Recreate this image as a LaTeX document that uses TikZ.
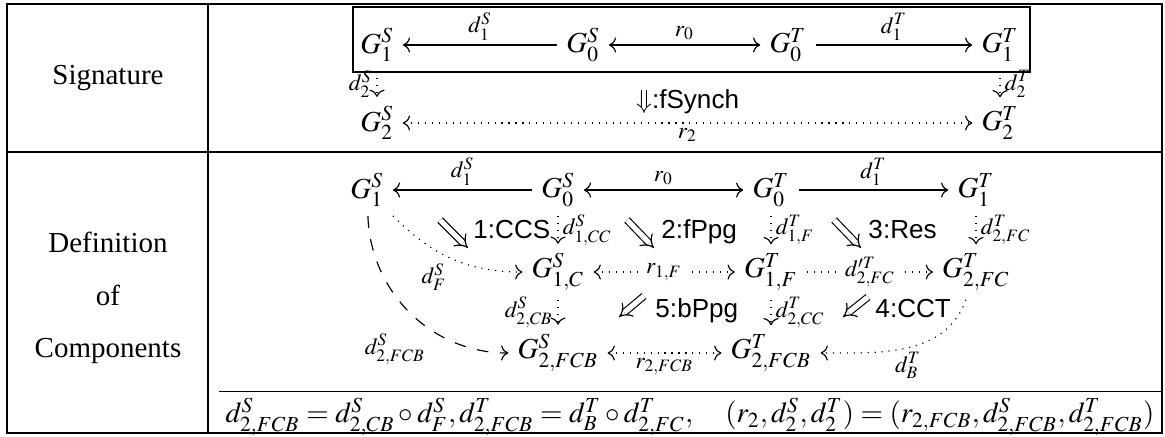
\documentclass[tikz,border=0pt]{standalone}
\usepackage{mathptmx}
\usepackage[no-math]{fontspec}
\setmainfont{Liberation Serif}
\setsansfont{Liberation Sans}
\usetikzlibrary{arrows.meta, positioning, calc}

\begin{document}
\begin{tikzpicture}[x=0.345pt, y=0.345pt,
    obj/.style={inner sep=3pt},
    lbl/.style={font=\footnotesize, inner sep=1.5pt},
    cell/.style={font=\small\sffamily, inner sep=1pt},
    dbl/.style={double, double distance=1.8pt, -{Implies[scale=1.25]}}
]
    \useasboundingbox (0,0) rectangle (1165,436);

    % table frame
    \draw (7,3) rectangle (1162,432);
    \draw (208,3) -- (208,432);
    \draw (7,284) -- (1162,284);
    \node (sig) at (108,358) {Signature};
    \node[align=center] (def) at (108,138) {Definition\\[6pt]of\\[6pt]Components};

    % signature
    \node[obj] (gS1) at (377,391) {$G^S_1$};
    \node[obj] (gS0) at (583,391) {$G^S_0$};
    \node[obj] (gT0) at (788,391) {$G^T_0$};
    \node[obj] (gT1) at (1000,391) {$G^T_1$};
    \node[obj] (gS2) at (377,313) {$G^S_2$};
    \node[obj] (gT2) at (1000,313) {$G^T_2$};
    \draw (353,364) rectangle (1030,429);
    \draw[->] (gS0) -- node[lbl, above] {$d^S_1$} (gS1);
    \draw[<->] (gS0) -- node[lbl, above] {$r_0$} (gT0);
    \draw[->] (gT0) -- node[lbl, above] {$d^T_1$} (gT1);
    \draw[->, dotted] (gS1) -- node[lbl, left] {$d^S_2$} (gS2);
    \draw[->, dotted] (gT1) -- node[lbl, right] {$d^T_2$} (gT2);
    \draw[<->, dotted] (gS2) -- node[lbl, below] {$r_2$}
        node[cell, above=2pt] (fsynch) {$\Downarrow$:fSynch} (gT2);

    % components
    \node[obj] (cS1) at (367,246) {$G^S_1$};
    \node[obj] (cS0) at (558,246) {$G^S_0$};
    \node[obj] (cT0) at (771,246) {$G^T_0$};
    \node[obj] (cT1) at (976,246) {$G^T_1$};
    \node[obj] (cS1C) at (558,164) {$G^S_{1,C}$};
    \node[obj] (cT1F) at (771,164) {$G^T_{1,F}$};
    \node[obj] (cT2FC) at (976,164) {$G^T_{2,FC}$};
    \node[obj] (cS2FCB) at (558,83) {$G^S_{2,FCB}$};
    \node[obj] (cT2FCB) at (771,83) {$G^T_{2,FCB}$};

    \draw[->] (cS0) -- node[lbl, above] {$d^S_1$} (cS1);
    \draw[<->] (cS0) -- node[lbl, above] {$r_0$} (cT0);
    \draw[->] (cT0) -- node[lbl, above] {$d^T_1$} (cT1);
    \draw[->, dotted] (cS0) -- node[lbl, right] {$d^S_{1,CC}$} (cS1C);
    \draw[->, dotted] (cT0) -- node[lbl, right] {$d^T_{1,F}$} (cT1F);
    \draw[->, dotted] (cT1) -- node[lbl, right] {$d^T_{2,FC}$} (cT2FC);
    \draw[<->, dotted] (cS1C) -- node[lbl, fill=white] {$r_{1,F}$} (cT1F);
    \draw[->, dotted] (cT1F) -- node[lbl, fill=white] {$d'^T_{2,FC}$} (cT2FC);
    \draw[->, dotted] (cS1C) -- node[lbl, left] {$d^S_{2,CB}$} (cS2FCB);
    \draw[->, dotted] (cT1F) -- node[lbl, right] {$d^T_{2,CC}$} (cT2FCB);
    \draw[<->, dotted] (cS2FCB) -- node[lbl, below] {$r_{2,FCB}$} (cT2FCB);
    \draw[->, dotted] (cS1) to[out=-45, in=180]
        node[lbl, below left] {$d^S_F$} (cS1C);
    \draw[->, dash pattern=on 4pt off 4pt] (cS1) to[out=-88, in=180]
        node[lbl, pos=0.62, below left] {$d^S_{2,FCB}$} (cS2FCB);
    \draw[->, dotted] (cT2FC) to[out=-110, in=0]
        node[lbl, below] {$d^T_B$} (cT2FCB);

    % 2-cells
    \node[cell, anchor=base west] (ccs) at (470,198) {1:CCS};
    \node[cell, anchor=base west] (fppg) at (658,198) {2:fPpg};
    \node[cell, anchor=base west] (res) at (865,198) {3:Res};
    \node[cell, anchor=base west] (bppg) at (652,119) {5:bPpg};
    \node[cell, anchor=base west] (cct) at (872,119) {4:CCT};
    \draw[dbl] ($(ccs.base west)+(-30,18)$) -- ($(ccs.base west)+(-2,-10)$);
    \draw[dbl] ($(fppg.base west)+(-31,18)$) -- ($(fppg.base west)+(-4,-10)$);
    \draw[dbl] ($(res.base west)+(-31,18)$) -- ($(res.base west)+(-4,-10)$);
    \draw[dbl] ($(bppg.base west)+(-8,21)$) -- ($(bppg.base west)+(-33,0)$);
    \draw[dbl] ($(cct.base west)+(-4,20)$) -- ($(cct.base west)+(-29,0)$);

    % composites
    \node[inner sep=2pt] (eq) at (690,19) {$d^S_{2,FCB}=d^S_{2,CB}\circ d^S_F, d^T_{2,FCB}=d^T_B\circ d^T_{2,FC},\quad (r_2,d^S_2,d^T_2)=(r_{2,FCB},d^S_{2,FCB},d^T_{2,FCB})$};
    \draw (eq.north west) -- (eq.north east);
\end{tikzpicture}
\end{document}
